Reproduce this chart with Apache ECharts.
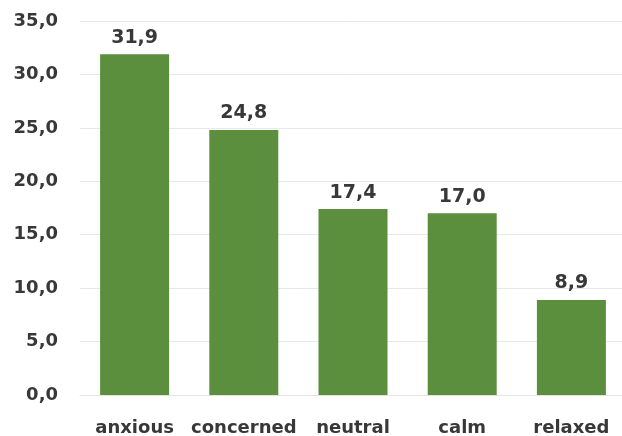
<!DOCTYPE html>
<html>
<head>
<meta charset="utf-8">
<script src="https://cdn.jsdelivr.net/npm/echarts@6/dist/echarts.min.js"></script>
<style>html,body{margin:0;padding:0;background:#fff}#c{width:622px;height:436px}</style>
</head>
<body>
<div id="c"></div>
<script>
const categories = ['anxious', 'concerned', 'neutral', 'calm', 'relaxed'];
const values = [31.9, 24.8, 17.4, 17.0, 8.9];
const yTicks = { min: 0, max: 35, interval: 5 };

const fmt = v => Number(v).toFixed(1).replace('.', ',');
const chart = echarts.init(document.getElementById('c'));
chart.setOption({
  animation: false,
  grid: { left: 80, right: -4, top: 21, bottom: 41, outerBoundsMode: 'none' },
  xAxis: {
    type: 'category',
    data: categories,
    axisLine: { show: true, lineStyle: { color: '#e3e3e3' } },
    axisTick: { show: false },
    axisLabel: { interval: 0, color: '#383838', fontFamily: 'DejaVu Sans', fontWeight: 'bold', fontSize: 18, margin: 24 }
  },
  yAxis: {
    type: 'value',
    min: yTicks.min, max: yTicks.max, interval: yTicks.interval,
    axisLine: { show: false },
    axisTick: { show: false },
    splitLine: { lineStyle: { color: '#e8e8e8' } },
    axisLabel: { color: '#383838', fontFamily: 'DejaVu Sans', fontWeight: 'bold', fontSize: 18, margin: 22, formatter: fmt }
  },
  series: [{
    type: 'bar',
    data: values,
    barWidth: 69,
    itemStyle: { color: '#5b8f3d' },
    label: { show: true, position: 'top', distance: 7, color: '#383838', fontFamily: 'DejaVu Sans', fontWeight: 'bold', fontSize: 19, formatter: p => fmt(p.value) }
  }]
});
</script>
</body>
</html>
